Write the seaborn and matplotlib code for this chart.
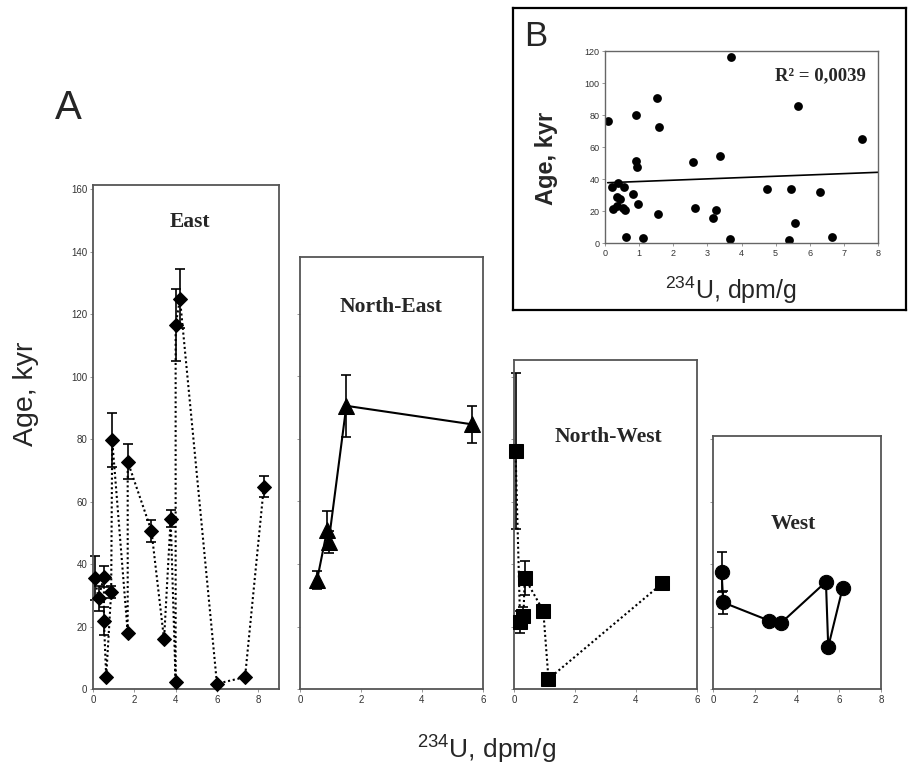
import numpy as np
import pandas as pd
import matplotlib
matplotlib.use('Agg')
import matplotlib.pyplot as plt
import seaborn as sns

# ---- panel A data (234U dpm/g, age kyr, error kyr), in line order ----
east_u = [0.08, 0.27, 0.53, 0.53, 0.64, 0.88, 0.93, 1.68, 1.68, 2.83, 3.44, 3.76, 4.00, 4.00, 4.21, 6.00, 7.36, 8.27]
east_age = [35.5, 29.1, 36.0, 21.7, 3.9, 31.0, 79.7, 18.0, 72.8, 50.6, 15.9, 54.5, 2.2, 116.4, 124.9, 1.7, 3.8, 64.8]
east_err = [7.0, 4.0, 3.5, 4.5, 0, 2.0, 8.5, 0, 5.5, 3.5, 0, 2.8, 0, 11.5, 9.5, 0, 0, 3.5]

ne_u = [0.56, 0.89, 0.94, 1.52, 5.63]
ne_age = [34.9, 50.9, 47.1, 90.6, 84.7]
ne_err = [3.0, 6.0, 3.5, 10.0, 6.0]

nw_u = [0.05, 0.20, 0.31, 0.35, 0.96, 1.13, 4.86]
nw_age = [76.2, 21.5, 23.4, 35.6, 25.0, 3.2, 33.8]
nw_err = [25.0, 3.5, 3.0, 5.5, 1.0, 0, 1.5]

west_u = [0.41, 0.49, 2.67, 3.22, 5.38, 5.49, 6.17]
west_age = [37.5, 27.7, 21.9, 21.0, 34.3, 13.5, 32.2]
west_err = [6.3, 3.7, 0, 0, 0, 0, 0]

# ---- panel B data (all samples) ----
b_u = [0.08, 0.91, 1.51, 1.58, 3.68, 5.66, 7.53, 0.90, 0.95, 2.59, 3.37, 0.21, 0.39, 0.56,
       0.34, 0.44, 0.83, 0.22, 0.36, 0.52, 0.59, 0.96, 1.56, 2.65, 3.15, 3.25, 4.76, 5.46,
       6.30, 5.58, 0.62, 1.12, 3.66, 5.40, 6.66]
b_age = [76.0, 79.8, 90.5, 72.5, 116.4, 85.4, 64.9, 51.5, 47.3, 50.5, 54.2, 35.2, 37.7, 35.2,
         28.9, 27.4, 30.8, 21.4, 23.0, 22.2, 20.5, 24.7, 18.0, 22.0, 15.7, 20.5, 33.7, 33.7,
         31.8, 12.8, 3.8, 3.1, 2.3, 1.7, 3.8]
# linear trend as drawn on the chart (read at both ends)
trend_u = [0.08, 8.0]
trend_age = [37.7, 44.2]

sns.set_theme(style='white')
plt.rcParams['font.family'] = ['Liberation Sans', 'DejaVu Sans']
plt.rcParams['mathtext.default'] = 'regular'

fig = plt.figure(figsize=(9.08, 7.74), dpi=100)

dotted = (0, (1, 1.3))


def panel(rect, u, age, err, marker, ms, ls, xlim, ylim, xticks, yticks,
          title, tx, ty, ylabels=False):
    ax = fig.add_axes(rect)
    ax.errorbar(u, age, yerr=err, fmt='none', ecolor='black', elinewidth=1.2,
                capsize=3.5, capthick=1.2, zorder=2, clip_on=False)
    sns.lineplot(x=u, y=age, sort=False, estimator=None, color='black',
                 marker=marker, markersize=ms, markeredgecolor='black',
                 linewidth=1.5, ax=ax, zorder=3, clip_on=False)
    ax.lines[-1].set_linestyle(ls)
    ax.set_xlim(xlim)
    ax.set_ylim(ylim)
    ax.set_xticks(xticks)
    ax.set_yticks(yticks)
    ax.set_xlabel('')
    ax.set_ylabel('')
    ax.tick_params(direction='out', length=2, width=0.6, color='#888',
                   labelsize=7, labelcolor='#333', pad=2, left=True, bottom=True,
                   labelleft=ylabels)
    for s in ax.spines.values():
        s.set_color('#555')
        s.set_linewidth(1.3)
    ax.text(tx, ty, title, transform=ax.transAxes, ha='center', va='center',
            family=['Liberation Serif', 'DejaVu Serif'], weight='bold', fontsize=15.5)
    return ax


panel([0.1024, 0.1098, 0.2048, 0.6512], east_u, east_age, east_err, 'D', 7.2, dotted,
      (0, 9), (0, 161.3), [0, 2, 4, 6, 8], range(0, 161, 20), 'East', 0.52, 0.927, True)
panel([0.3304, 0.1098, 0.2015, 0.5581], ne_u, ne_age, ne_err, '^', 12, '-',
      (0, 6), (0, 138.2), [0, 2, 4, 6], range(0, 121, 20), 'North-East', 0.497, 0.884)
panel([0.5661, 0.1098, 0.2015, 0.4251], nw_u, nw_age, nw_err, 's', 9.8, dotted,
      (0, 6), (0, 105.3), [0, 2, 4, 6], range(0, 101, 20), 'North-West', 0.515, 0.766)
panel([0.7852, 0.1098, 0.1850, 0.3269], west_u, west_age, west_err, 'o', 10.3, '-',
      (0, 8), (0, 81), [0, 2, 4, 6, 8], range(0, 81, 20), 'West', 0.48, 0.652)

fig.text(0.075, 0.86, 'A', fontsize=29, ha='center', va='center')
fig.text(0.029, 0.491, 'Age, kyr', fontsize=20.5, rotation=90, ha='center', va='center')
fig.text(0.536, 0.031, r'$\mathregular{^{234}}$U, dpm/g', fontsize=19, ha='center', va='center')

# ---- inset B ----
frame = fig.add_axes([0.565, 0.5995, 0.433, 0.3906])
frame.set_xticks([])
frame.set_yticks([])
frame.set_facecolor('white')
for s in frame.spines.values():
    s.set_color('black')
    s.set_linewidth(1.6)
frame.text(0.057, 0.905, 'B', transform=frame.transAxes, fontsize=25, ha='center', va='center')

axb = fig.add_axes([0.6663, 0.686, 0.3007, 0.2481])
sns.scatterplot(x=b_u, y=b_age, ax=axb, s=40, color='black', linewidth=0)
sns.lineplot(x=trend_u, y=trend_age, ax=axb, color='black', linewidth=1.2)
axb.set_xlim(0, 8)
axb.set_ylim(0, 120)
axb.set_xticks(range(0, 9))
axb.set_yticks(range(0, 121, 20))
axb.tick_params(direction='out', length=2, width=0.6, color='#888',
                labelsize=6.5, labelcolor='#333', pad=2, left=True, bottom=True)
for s in axb.spines.values():
    s.set_color('#666')
    s.set_linewidth(1.0)
axb.text(0.79, 0.87, 'R² = 0,0039', transform=axb.transAxes, ha='center', va='center',
         family=['Liberation Serif', 'DejaVu Serif'], weight='bold', fontsize=13.5)
fig.text(0.602, 0.795, 'Age, kyr', fontsize=17, weight='bold', rotation=90,
         ha='center', va='center')
fig.text(0.805, 0.625, r'$\mathregular{^{234}}$U, dpm/g', fontsize=18, ha='center', va='center')

fig.savefig('out.png', dpi=100)
